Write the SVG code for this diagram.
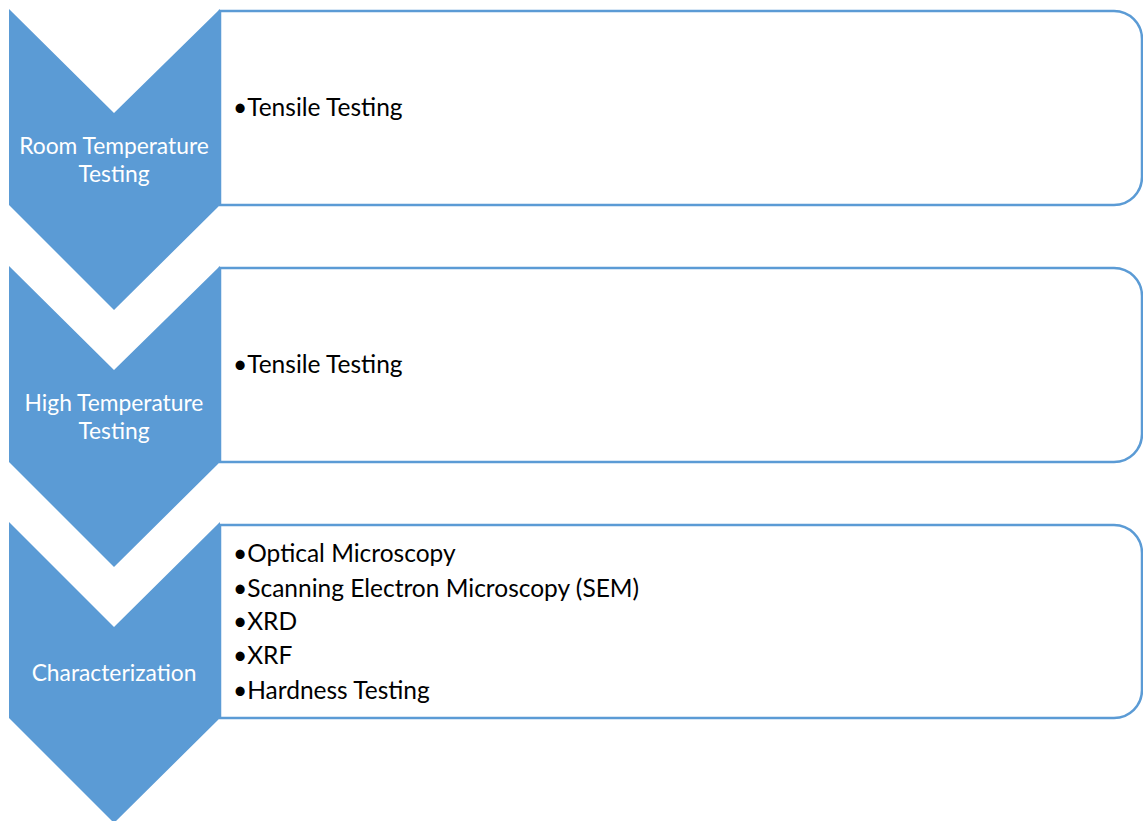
<svg xmlns="http://www.w3.org/2000/svg" width="1143" height="821" viewBox="0 0 1143 821">
  <style>
    .chev { fill: #5B9BD5; }
    .box { fill: #FFFFFF; stroke: #5B9BD5; stroke-width: 2.5; }
    .lbl { font-family: Lato, "Liberation Sans", sans-serif; font-size: 22.8px; fill: #FFFFFF; text-anchor: middle; }
    .item { font-family: Lato, "Liberation Sans", sans-serif; font-size: 24.5px; fill: #000000; }
  </style>
  <rect width="1143" height="821" fill="#FFFFFF"/>

  <!-- stage 1 -->
  <g id="stage-room">
    <path class="box" d="M220,11 H1114 A28,28 0 0 1 1142,39 V177 A28,28 0 0 1 1114,205 H220 Z"/>
    <polygon class="chev" points="9,9 114,113 220,9 220,205 114,310 9,205"/>
    <text class="lbl" x="114" y="154">Room Temperature</text>
    <text class="lbl" x="114" y="182">Testing</text>
    <text class="item" x="233" y="116">•Tensile Testing</text>
  </g>

  <!-- stage 2 -->
  <g id="stage-high">
    <path class="box" d="M220,268 H1114 A28,28 0 0 1 1142,296 V434 A28,28 0 0 1 1114,462 H220 Z"/>
    <polygon class="chev" points="9,266 114,370 220,266 220,462 114,567 9,462"/>
    <text class="lbl" x="114" y="411">High Temperature</text>
    <text class="lbl" x="114" y="439">Testing</text>
    <text class="item" x="233" y="373">•Tensile Testing</text>
  </g>

  <!-- stage 3 -->
  <g id="stage-char">
    <path class="box" d="M220,525 H1114 A28,28 0 0 1 1142,553 V690 A28,28 0 0 1 1114,718 H220 Z"/>
    <polygon class="chev" points="9,522 114,627 220,522 220,718 114,823 9,718"/>
    <text class="lbl" x="114" y="681">Characterization</text>
    <text class="item" x="233" y="562">•Optical Microscopy</text>
    <text class="item" x="233" y="597">•Scanning Electron Microscopy (SEM)</text>
    <text class="item" x="233" y="630">•XRD</text>
    <text class="item" x="233" y="664">•XRF</text>
    <text class="item" x="233" y="699">•Hardness Testing</text>
  </g>

  <g id="connectors"></g>
</svg>
